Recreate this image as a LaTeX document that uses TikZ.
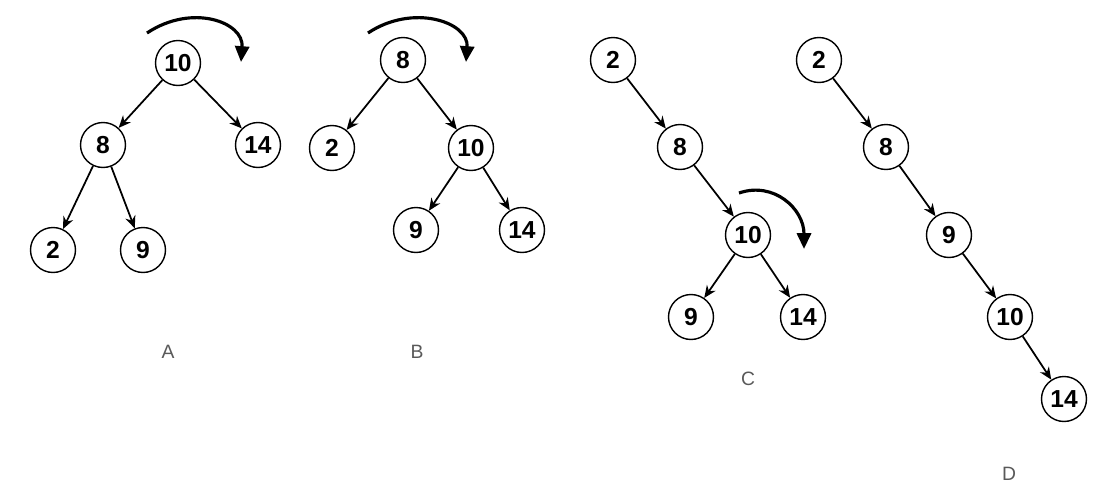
\documentclass[tikz,border=0pt]{standalone}
\usepackage{fontspec}
\setmainfont{Liberation Sans}
\usetikzlibrary{arrows.meta}
\tikzset{
    key/.style={circle, draw, line width=0.8pt, minimum size=0.9cm, inner sep=0pt, font=\fontsize{14}{16}\selectfont\bfseries},
    edge/.style={->, line width=1pt},
    turn/.style={-{Triangle[length=9pt,width=8pt]}, line width=1.8pt},
    caption/.style={text=black!65, font=\fontsize{11}{13}\selectfont}
}
\begin{document}
\begin{tikzpicture}[x=0.02cm, y=-0.02cm, >={Stealth[length=7pt,width=6pt]}]
    \useasboundingbox (0,0) rectangle (1103,501);

    % A
    \node [key] (A10) at (178, 63) {10};
    \node [key] (A8) at (103, 145) {8};
    \node [key] (A14) at (258, 145) {14};
    \node [key] (A2) at (53, 250) {2};
    \node [key] (A9) at (143, 250) {9};
    \node [caption] (labA) at (168, 352) {A};

    \draw [edge] (A10) -- (A8);
    \draw [edge] (A10) -- (A14);
    \draw [edge] (A8) -- (A2);
    \draw [edge] (A8) -- (A9);
    \coordinate (sA) at ([shift={(-31,-30)}]A10.center);
    \coordinate (tA) at ([shift={(63,-1)}]A10.center);
    \draw [turn] (sA) .. controls +(45,-30) and +(3,-40) .. (tA);

    % B
    \node [key] (B8) at (403, 60) {8};
    \node [key] (B2) at (332, 148) {2};
    \node [key] (B10) at (471, 148) {10};
    \node [key] (B9) at (416, 230) {9};
    \node [key] (B14) at (522, 230) {14};
    \node [caption] (labB) at (417, 352) {B};

    \draw [edge] (B8) -- (B2);
    \draw [edge] (B8) -- (B10);
    \draw [edge] (B10) -- (B9);
    \draw [edge] (B10) -- (B14);
    \coordinate (sB) at ([shift={(-35,-27)}]B8.center);
    \coordinate (tB) at ([shift={(63,2)}]B8.center);
    \draw [turn] (sB) .. controls +(45,-30) and +(3,-40) .. (tB);

    % C
    \node [key] (C2) at (613, 60) {2};
    \node [key] (C8) at (680, 147) {8};
    \node [key] (C10) at (748, 235) {10};
    \node [key] (C9) at (691, 317) {9};
    \node [key] (C14) at (803, 317) {14};
    \node [caption] (labC) at (748, 379) {C};

    \draw [edge] (C2) -- (C8);
    \draw [edge] (C8) -- (C10);
    \draw [edge] (C10) -- (C9);
    \draw [edge] (C10) -- (C14);
    \coordinate (sC) at ([shift={(-9,-42)}]C10.center);
    \coordinate (tC) at ([shift={(56,14)}]C10.center);
    \draw [turn] (sC) .. controls +(35,-12) and +(0,-40) .. (tC);

    % D
    \node [key] (D2) at (819, 60) {2};
    \node [key] (D8) at (886, 147) {8};
    \node [key] (D9) at (949, 235) {9};
    \node [key] (D10) at (1010, 317) {10};
    \node [key] (D14) at (1064, 399) {14};
    \node [caption] (labD) at (1009, 474) {D};

    \draw [edge] (D2) -- (D8);
    \draw [edge] (D8) -- (D9);
    \draw [edge] (D9) -- (D10);
    \draw [edge] (D10) -- (D14);
\end{tikzpicture}
\end{document}
